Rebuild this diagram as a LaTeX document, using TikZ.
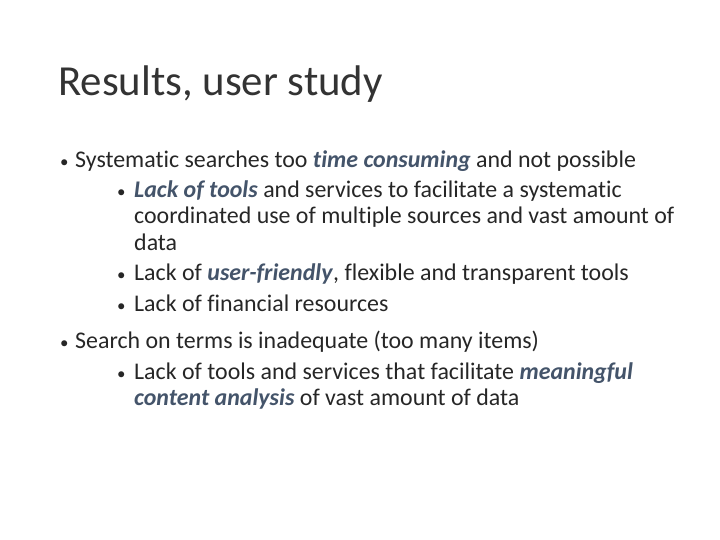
\documentclass[tikz,border=0pt]{standalone}
\usepackage{fontspec}
\setmainfont{Carlito}[Ligatures=NoCommon]
\definecolor{emph}{HTML}{44546A}
\newcommand\myem[1]{\textcolor{emph}{\textbf{\textit{#1}}}}
\begin{document}
\begin{tikzpicture}[x=1bp,y=-1bp,
  tx/.style={anchor=base west,inner sep=0pt,font=\fontsize{24}{28}\selectfont,text=black!85},
  bl/.style={anchor=base west,inner sep=0pt,font=\fontsize{17}{20}\selectfont,text=black!85}]
\useasboundingbox (0,0) rectangle (720,540);
\node[anchor=base west,inner sep=0pt,font=\fontsize{43}{46}\selectfont,text=black!80] (title) at (58,96) {Results, user study};
\node[bl] (b1) at (60,168) {•};
\node[tx] (l1) at (75,168) {Systematic searches too \myem{time consuming} and not possible};
\node[bl] (b2) at (117,198) {•};
\node[tx] (l2) at (134,198) {\myem{Lack of tools} and services to facilitate a systematic};
\node[tx] (l3) at (134,224) {coordinated use of multiple sources and vast amount of};
\node[tx] (l4) at (134,251) {data};
\node[bl] (b3) at (117,281) {•};
\node[tx] (l5) at (134,281) {Lack of \myem{user-friendly}, flexible and transparent tools};
\node[bl] (b4) at (117,311) {•};
\node[tx] (l6) at (134,311) {Lack of financial resources};
\node[bl] (b5) at (60,348) {•};
\node[tx] (l7) at (75,348) {Search on terms is inadequate (too many items)};
\node[bl] (b6) at (117,379) {•};
\node[tx] (l8) at (134,379) {Lack of tools and services that facilitate \myem{meaningful}};
\node[tx] (l9) at (134,405) {\myem{content analysis} of vast amount of data};
\end{tikzpicture}
\end{document}
